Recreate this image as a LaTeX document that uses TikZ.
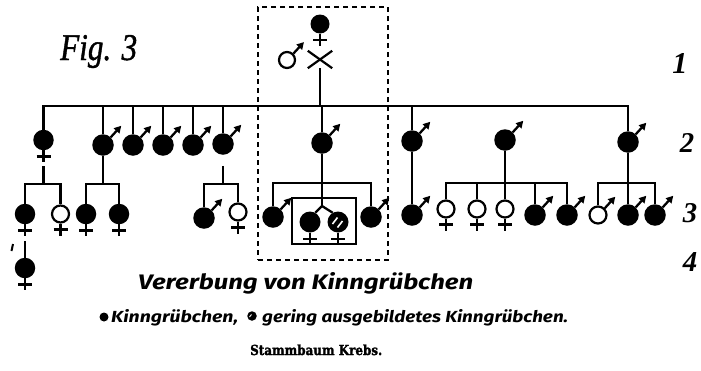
\documentclass[tikz,border=0pt]{standalone}
\usepackage{fontspec}
\usetikzlibrary{calc,arrows.meta}
\newfontfamily\capfont{Fira Sans}
\newfontfamily\figfont{Liberation Serif}
\newfontfamily\figfontb{Liberation Serif}[FakeBold=1.2]
\newfontfamily\stfont{DejaVu Serif}[FakeBold=2]
\tikzset{
 ln/.style={line width=2.3pt},
 ffem/.style={circle, fill=black, inner sep=0pt, minimum size=20.5pt},
 ofem/.style={circle, draw=black, line width=2.2pt, fill=white, inner sep=0pt, minimum size=17pt},
 fmal/.style={circle, fill=black, inner sep=0pt, minimum size=21.5pt},
 omal/.style={circle, draw=black, line width=2.2pt, fill=white, inner sep=0pt, minimum size=17pt},
 marrow/.style={line width=2.3pt, -{Triangle[length=7pt,width=7.5pt]}},
 txt/.style={inner sep=0pt, anchor=base west},
 stripe/.style={white, line width=1.6pt},
}
\newcommand\Fem[4]{%
 \node[#1] (#2) at (#3,#4) {};
 \draw[ln] (#2.south) -- ++(0,12) coordinate (#2-b);
 \draw[ln] ($(#2.south)+(-7,6)$) -- ++(14,0);
}
\newcommand\Mal[4]{%
 \node[#1] (#2) at (#3,#4) {};
 \draw[marrow] (#2.45) -- ++(10.5,-11.5);
}
\begin{document}
\begin{tikzpicture}[x=1pt,y=-1pt]
\useasboundingbox (0,0) rectangle (701,370);
\fill[white] (0,0) rectangle (701,370);
% dashed frame
\node[draw, line width=2pt, dash pattern=on 5pt off 4pt, minimum width=130pt, minimum height=253pt, inner sep=0pt] (dbox) at (323,133.5) {};
% generation 1
\Fem{ffem, minimum size=19pt}{f1}{320}{24}
\Mal{omal, minimum size=16pt}{m1}{287}{60}
\node[inner sep=0pt, minimum width=24pt, minimum height=17pt] (x1) at (320,59.5) {};
\draw[line width=2.2pt] (x1.north west) -- (x1.south east);
\draw[line width=2.2pt] (x1.south west) -- (x1.north east);
\coordinate (tb) at (320,106);
\draw[ln] (x1.south) -- (tb);
% generation 2
\Fem{ffem}{f2a}{43.5}{140}
\Mal{fmal}{m2a}{103}{145}
\Mal{fmal}{m2b}{133}{145}
\Mal{fmal}{m2c}{163}{145}
\Mal{fmal}{m2d}{193}{145}
\Mal{fmal}{m2e}{223}{144}
\Mal{fmal}{m2k}{322}{143}
\Mal{fmal}{m2f}{412}{141}
\Mal{fmal}{m2g}{505}{140}
\Mal{fmal}{m2h}{628}{142}
\draw[ln] (f2a.north) |- (tb) -| (m2h.north);
\foreach \n in {m2a,m2b,m2c,m2d,m2e,m2k,m2f}
  \draw[ln] (\n.north) -- (\n.north |- tb);
% generation 3
\Fem{ffem}{f3a}{25}{214}
\Fem{ofem}{f3b}{60.5}{214}
\Fem{ffem}{f3c}{86}{214}
\Fem{ffem}{f3d}{119}{214}
\Mal{fmal}{m3a}{204}{218}
\Fem{ofem}{f3e}{238}{212}
\Mal{fmal}{m3b}{273}{217}
\Mal{fmal}{m3c}{371}{217}
\node[draw, line width=2pt, minimum width=64pt, minimum height=46pt, inner sep=0pt] (ibox) at (324,221) {};
\Fem{ffem, minimum size=21pt}{f3f}{310}{222}
\Fem{ffem, minimum size=21pt}{f3g}{338}{222}
\draw[stripe] ($(f3g)+(-5.5,2)$) -- ++(5,-6.5);
\draw[stripe] ($(f3g)+(-0.5,5.5)$) -- ++(5,-6.5);
\Mal{fmal}{m3d}{412}{215}
\Fem{ofem}{f3h}{446}{209}
\Fem{ofem}{f3i}{477}{209}
\Fem{ofem}{f3j}{505}{209}
\Mal{fmal}{m3e}{535}{215}
\Mal{fmal}{m3f}{567}{215}
\Mal{omal}{m3g}{598}{215}
\Mal{fmal}{m3h}{628}{215}
\Mal{fmal}{m3i}{655}{215}
% sibships
\coordinate (j1) at (43.5,184);
\draw[ln] ($(f2a-b)+(0,4)$) -- (j1);
\draw[ln] (f3a.north) |- (j1) -| (f3b.north);
\coordinate (j2) at (103,184);
\draw[ln] (m2a.south) -- (j2);
\draw[ln] (f3c.north) |- (j2) -| (f3d.north);
\coordinate (j3) at (223,184);
\draw[ln] ($(m2e.south)+(0,11)$) -- (j3);
\draw[ln] (m3a.north) |- (j3) -| (f3e.north);
\coordinate (j4) at (322,183);
\coordinate (fk) at (322,206);
\draw[ln] (m2k.south) -- (j4);
\draw[ln] (m3b.north) |- (j4) -| (m3c.north);
\draw[ln] (j4) -- (fk);
\draw[ln] (fk) -- (f3f.60);
\draw[ln] (fk) -- (f3g.120);
\draw[ln] (m2f.south) -- (m3d.north);
\coordinate (j5) at (505,183);
\draw[ln] (m2g.south) -- (j5);
\draw[ln] (f3h.north) |- (j5) -| (m3f.north);
\foreach \n in {f3i,f3j,m3e}
  \draw[ln] (\n.north) -- (\n.north |- j5);
\coordinate (j6) at (628,183);
\draw[ln] (m2h.south) -- (j6);
\draw[ln] (m3g.north) |- (j6) -| (m3i.north);
\draw[ln] (m3h.north) -- (j6);
% generation 4
\Fem{ffem}{f4}{25}{268}
\draw[ln] ($(f3a-b)+(0,5)$) -- (f4.north);
\draw[line width=2pt] (13,244) -- (11.5,251);
% texts
\node[txt] (fig) at (60,60) {\resizebox{77pt}{25pt}{\figfontb\itshape Fig. 3}};
\node[inner sep=0pt] (n1) at (680,63) {\resizebox{!}{20pt}{\figfont\bfseries\itshape 1}};
\node[inner sep=0pt] (n2) at (687,143) {\resizebox{!}{19pt}{\figfont\bfseries\itshape 2}};
\node[inner sep=0pt] (n3) at (690,213) {\resizebox{!}{19pt}{\figfont\bfseries\itshape 3}};
\node[inner sep=0pt] (n4) at (690,262) {\resizebox{!}{19pt}{\figfont\bfseries\itshape 4}};
\node[txt] (title) at (138,289) {\resizebox{335pt}{17pt}{\capfont\bfseries\itshape Vererbung von Kinngrübchen}};
\node[circle, fill=black, inner sep=0pt, minimum size=9pt] (ld1) at (104,317) {};
\node[txt] (lt1) at (111,322) {\resizebox{127pt}{13pt}{\capfont\bfseries\itshape Kinngrübchen,}};
\node[circle, fill=black, inner sep=0pt, minimum size=9.5pt] (ld2) at (252,316) {};
\draw[white, line width=0.9pt] ($(ld2)+(-2.5,1)$) -- ++(2,-2.5);
\node[txt] (lt2) at (262,322) {\resizebox{306pt}{13pt}{\capfont\bfseries\itshape gering ausgebildetes Kinngrübchen.}};
\node[txt] (st) at (250,355) {\resizebox{132pt}{10.5pt}{\stfont\bfseries Stammbaum Krebs.}};
\end{tikzpicture}
\end{document}
